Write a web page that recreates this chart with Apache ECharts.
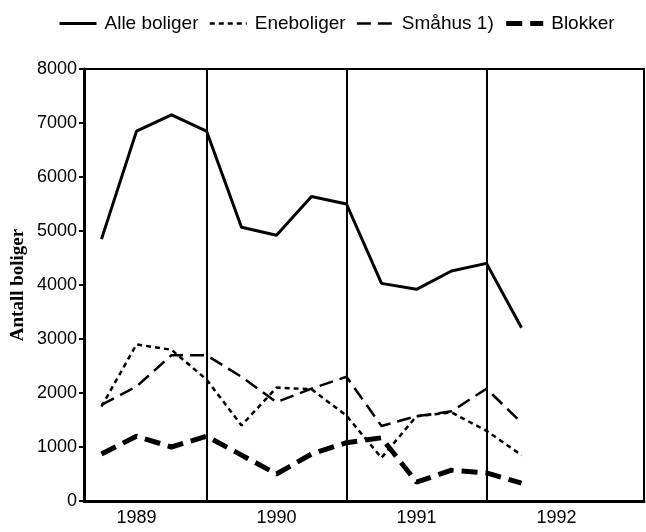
<!DOCTYPE html>
<html>
<head>
<meta charset="utf-8">
<script src="https://cdn.jsdelivr.net/npm/echarts@6/dist/echarts.min.js"></script>
<style>
  html, body { margin: 0; padding: 0; background: #fff; }
  #chart { width: 646px; height: 532px; }
</style>
</head>
<body>
<div id="chart"></div>
<script>
// quarters 1989 K1 .. 1992 K4
const quarters = [
  '1989 K1', '1989 K2', '1989 K3', '1989 K4',
  '1990 K1', '1990 K2', '1990 K3', '1990 K4',
  '1991 K1', '1991 K2', '1991 K3', '1991 K4',
  '1992 K1', '1992 K2', '1992 K3', '1992 K4'
]
const yearLines = ['1989 K4', '1990 K4', '1991 K4']

const alleBoliger = [4850, 6850, 7150, 6850, 5070, 4920, 5640, 5500, 4030, 3920, 4260, 4400, 3210]
const eneboliger = [1750, 2900, 2800, 2250, 1400, 2100, 2070, 1580, 800, 1570, 1640, 1300, 850]
const smahus = [1780, 2120, 2700, 2700, 2300, 1830, 2080, 2300, 1390, 1570, 1660, 2080, 1450]
const blokker = [870, 1200, 1000, 1200, 850, 500, 870, 1080, 1170, 350, 570, 520, 330]

const chart = echarts.init(document.getElementById('chart'))

const sansFont = '"Liberation Sans", Arial, sans-serif'

chart.setOption({
  animation: false,
  backgroundColor: '#fff',
  legend: {
    left: 53,
    top: 9,
    itemWidth: 37,
    itemHeight: 18,
    itemGap: 10,
    itemStyle: { opacity: 0 },
    lineStyle: { width: 'inherit' },
    textStyle: { fontFamily: sansFont, fontSize: 19, color: '#000', padding: [0, 0, 0, 3] },
    data: ['Alle boliger', 'Eneboliger', 'Småhus 1)', 'Blokker']
  },
  grid: {
    left: 84,
    right: 2,
    top: 69,
    bottom: 31,
    show: true,
    borderColor: '#000',
    borderWidth: 2
  },
  xAxis: {
    type: 'category',
    data: quarters,
    boundaryGap: true,
    axisLine: { lineStyle: { color: '#000', width: 3 } },
    axisTick: {
      alignWithLabel: true,
      interval: 0,
      length: 8,
      lineStyle: { color: '#000', width: 2 }
    },
    axisLabel: {
      interval: function (i) { return i % 4 === 1 },
      formatter: function (v) { return v.slice(0, 4) },
      margin: 8,
      fontFamily: sansFont,
      fontSize: 18,
      color: '#000'
    },
    splitLine: { show: false }
  },
  yAxis: {
    type: 'value',
    min: 0,
    max: 8000,
    interval: 1000,
    name: 'Antall boliger',
    nameLocation: 'middle',
    nameGap: 56,
    nameMoveOverlap: false,
    nameTextStyle: {
      fontFamily: '"Liberation Serif", "Times New Roman", serif',
      fontWeight: 'bold',
      fontSize: 19,
      color: '#000'
    },
    axisLine: { show: true, lineStyle: { color: '#000', width: 3 } },
    axisTick: { show: true, length: 5, lineStyle: { color: '#000', width: 2 } },
    axisLabel: {
      margin: 7,
      formatter: function (v) { return String(v) },
      fontFamily: sansFont,
      fontSize: 18,
      color: '#000'
    },
    splitLine: { show: false }
  },
  series: [
    {
      name: 'Alle boliger',
      type: 'line',
      data: alleBoliger,
      symbol: 'none',
      itemStyle: { color: '#000' },
      lineStyle: { color: '#000', width: 3 },
      markLine: {
        silent: true,
        symbol: 'none',
        label: { show: false },
        lineStyle: { color: '#000', width: 2, type: 'solid' },
        data: yearLines.map(function (q) { return { xAxis: q } })
      }
    },
    {
      name: 'Eneboliger',
      type: 'line',
      data: eneboliger,
      symbol: 'none',
      itemStyle: { color: '#000' },
      lineStyle: { color: '#000', width: 2.5, type: [5, 4] }
    },
    {
      name: 'Småhus 1)',
      type: 'line',
      data: smahus,
      symbol: 'none',
      itemStyle: { color: '#000' },
      lineStyle: { color: '#000', width: 2.5, type: [14, 7] }
    },
    {
      name: 'Blokker',
      type: 'line',
      data: blokker,
      symbol: 'none',
      itemStyle: { color: '#000' },
      lineStyle: { color: '#000', width: 5, type: [16, 8] }
    }
  ]
})
</script>
</body>
</html>
